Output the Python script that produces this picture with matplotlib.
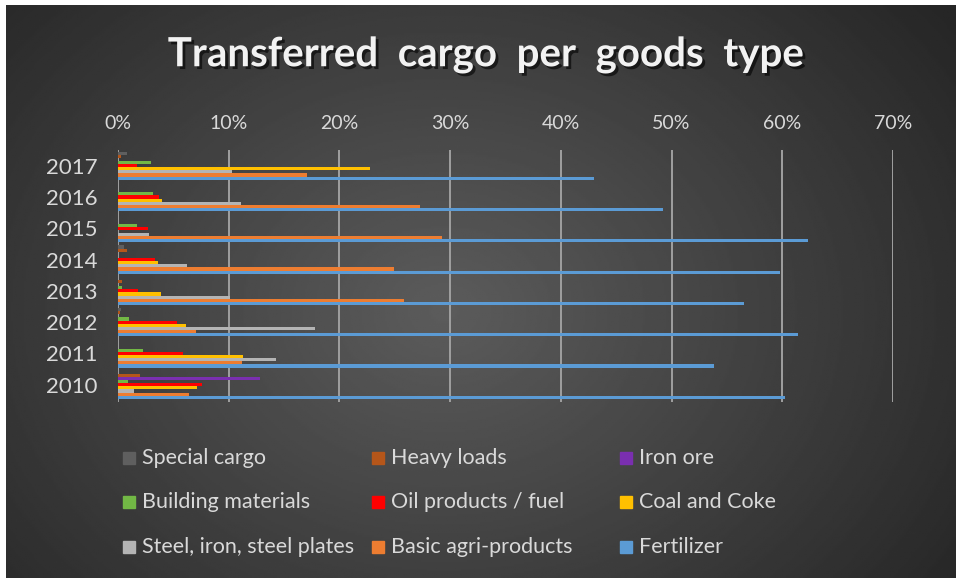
import numpy as np
import matplotlib
matplotlib.use("Agg")
import matplotlib.pyplot as plt
from matplotlib.patches import Rectangle
import matplotlib.patheffects as pe

plt.rcParams['font.family'] = ['Lato', 'DejaVu Sans']

# Daten
years = ['2010', '2011', '2012', '2013', '2014', '2015', '2016', '2017']
series_names = ['Special cargo', 'Heavy loads', 'Iron ore',
                'Building materials', 'Oil products / fuel', 'Coal and Coke',
                'Steel, iron, steel plates', 'Basic agri-products', 'Fertilizer']
special = [0.0, 0.0, 0.3, 0.0, 0.5, 0.0, 0.0, 0.8]
heavy = [2.0, 0.0, 0.2, 0.4, 0.8, 0.0, 0.0, 0.3]
iron_ore = [12.8, 0.0, 0.0, 0.0, 0.0, 0.0, 0.0, 0.0]
building = [0.9, 2.3, 1.0, 0.4, 0.0, 1.7, 3.2, 3.0]
oil = [7.6, 5.9, 5.3, 1.8, 3.3, 2.7, 3.7, 1.7]
coal = [7.1, 11.3, 6.1, 3.9, 3.6, 0.0, 4.0, 22.8]
steel = [1.4, 14.3, 17.8, 10.1, 6.2, 2.8, 11.1, 10.3]
agri = [6.4, 11.2, 7.0, 25.8, 24.9, 29.3, 27.3, 17.1]
fertilizer = [60.2, 53.8, 61.4, 56.5, 59.8, 62.3, 49.2, 43.0]
values = [special, heavy, iron_ore, building, oil, coal, steel, agri, fertilizer]
colors = ['#5f5f5f', '#b5561a', '#7a2fb0', '#72b845', '#ff0000',
          '#ffc000', '#b4b4b4', '#ed7d31', '#5b9bd5']

W, H = 956, 578
fig = plt.figure(figsize=(W / 100, H / 100), dpi=100, facecolor='white')

# Hintergrund (radialer Verlauf)
bg = fig.add_axes([6 / W, 0, 1 - 6 / W, 1 - 5 / H])
yy, xx = np.mgrid[0:300, 0:500]
r = np.sqrt(((xx - 230) / 330.0) ** 2 + ((yy - 160) / 260.0) ** 2)
shade = np.clip(0.36 - 0.21 * r, 0.15, 0.36)
bg.imshow(shade, cmap='gray', vmin=0, vmax=1, aspect='auto', extent=[0, 1, 0, 1])
bg.axis('off')

# Diagramm
ax = fig.add_axes([118 / W, 1 - 402 / H, (893 - 118) / W, (402 - 150) / H])
ax.patch.set_alpha(0)
n = len(series_names)
h = 0.1
y = np.arange(len(years))
for k, (name, vals, col) in enumerate(zip(series_names, values, colors)):
    off = (n - 1 - k) * h - (n - 1) * h / 2
    ax.barh(y + off, vals, height=h, color=col, zorder=3)

ax.set_xlim(0, 70)
ax.set_ylim(-0.55, 7.5)
ax.set_xticks(np.arange(0, 71, 10))
ax.set_xticklabels([f'{v}%' for v in range(0, 71, 10)])
ax.set_yticks(y)
ax.set_yticklabels(years)
ax.xaxis.tick_top()
ax.tick_params(axis='x', length=0, pad=13, labelsize=14, colors='#d9d9d9')
ax.tick_params(axis='y', length=0, pad=15, labelsize=16, colors='#d9d9d9')
ax.grid(axis='x', color='#a0a0a0', linewidth=1.4, zorder=1)
for s in ax.spines.values():
    s.set_visible(False)

# Titel
fig.text(486 / W, 1 - 55 / H, 'Transferred  cargo  per  goods  type', ha='center', va='center',
         fontsize=29, fontweight='bold', color='#f2f2f2',
         path_effects=[pe.withSimplePatchShadow(offset=(2, -2), shadow_rgbFace='black', alpha=0.6)])

# Legende
col_x = [123, 372, 620]
row_y = [458, 502, 547]
for k, (name, col) in enumerate(zip(series_names, colors)):
    cx = col_x[k % 3]
    cy = row_y[k // 3]
    fig.patches.append(Rectangle(((cx) / W, 1 - (cy + 6) / H), 12 / W, 12 / H,
                                 transform=fig.transFigure, color=col, figure=fig))
    fig.text((cx + 19) / W, 1 - cy / H, name, ha='left', va='center',
             fontsize=15.5, color='#d9d9d9')

fig.savefig('out.png', dpi=100, facecolor=fig.get_facecolor())
